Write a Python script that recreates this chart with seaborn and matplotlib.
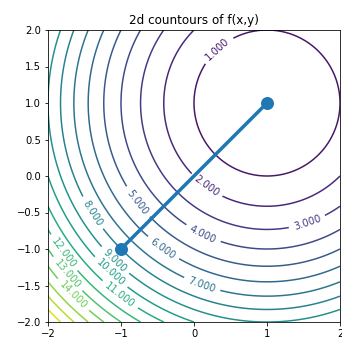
import numpy as np
import pandas as pd
import matplotlib
matplotlib.use("Agg")
import matplotlib.pyplot as plt
import seaborn as sns

# Domain of the surface and the contour levels drawn
x_range = [-2.0, 2.0]
y_range = [-2.0, 2.0]
levels = [0.0, 1.0, 2.0, 3.0, 4.0, 5.0, 6.0, 7.0, 8.0, 9.0,
          10.0, 11.0, 12.0, 13.0, 14.0, 15.0, 16.0, 17.0, 18.0]
labelled_levels = [1.0, 2.0, 3.0, 4.0, 5.0, 6.0, 7.0, 8.0, 9.0,
                   10.0, 11.0, 12.0, 13.0, 14.0]

# Path from the start point to the minimum
path_x = [-1.0, 1.0]
path_y = [-1.0, 1.0]

# Minimum of the quadratic bowl
center = (1.0, 1.0)

# Direction (seen from the minimum) at which each level carries its label
label_angles_deg = [132.5, 233.8, 288.6, 244.0, 217.4, 234.4, 250.3,
                    212.2, 226.0, 227.3, 232.5, 216.4, 220.6, 224.7]

xs = np.linspace(x_range[0], x_range[1], 200)
ys = np.linspace(y_range[0], y_range[1], 200)
X, Y = np.meshgrid(xs, ys)
Z = (X - center[0]) ** 2 + (Y - center[1]) ** 2

fig = plt.figure(figsize=(342 / 72, 344 / 72), dpi=72)
ax = fig.add_axes([48 / 342, 22 / 344, 292 / 342, 292 / 344])

cs = ax.contour(X, Y, Z, levels=levels, cmap="viridis")

label_points = []
for lev, ang in zip(labelled_levels, label_angles_deg):
    r = np.sqrt(lev)
    t = np.deg2rad(ang)
    label_points.append((center[0] + r * np.cos(t), center[1] + r * np.sin(t)))
ax.clabel(cs, inline=True, fontsize=10, fmt="%1.3f", manual=label_points)

path = pd.DataFrame({"x": path_x, "y": path_y})
sns.lineplot(data=path, x="x", y="y", ax=ax, color="#1f77b4", linewidth=3.5,
             marker="o", markersize=13, markeredgewidth=0, sort=False)

ax.set_xlim(*x_range)
ax.set_ylim(*y_range)
ax.set_xticks([-2, -1, 0, 1, 2])
ax.set_yticks(np.arange(-2, 2.01, 0.5))
ax.set_xlabel("")
ax.set_ylabel("")
ax.set_title("2d countours of f(x,y)", fontsize=12)

fig.savefig("out.png", dpi=72)
